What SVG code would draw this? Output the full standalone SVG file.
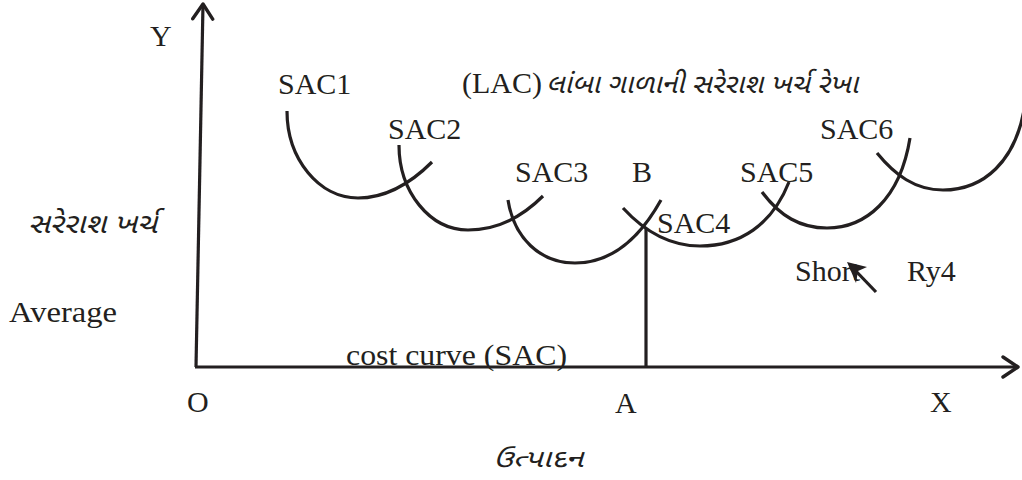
<svg xmlns="http://www.w3.org/2000/svg" width="1022" height="480" viewBox="0 0 1022 480">
<style>
.t{font-family:"Liberation Serif","Times New Roman",serif;font-size:30px;fill:#231f20}
.g{font-family:"Noto Sans Gujarati","Noto Serif Gujarati","Lohit Gujarati","Shruti",sans-serif;font-style:italic;fill:#231f20}
.c{fill:none;stroke:#231f20;stroke-width:3.2;stroke-linecap:butt}
.ax{fill:none;stroke:#231f20;stroke-width:3.2}
</style>
<defs>
<marker id="chev" viewBox="0 0 20 24" refX="18" refY="12" markerWidth="20" markerHeight="24" markerUnits="userSpaceOnUse" orient="auto">
<path d="M3,2 L18,12 L3,22" fill="none" stroke="#231f20" stroke-width="3.4" stroke-linecap="round" stroke-linejoin="round"/>
</marker>
</defs>
<g id="connectors">
<path class="ax" d="M196,367 L203,4" marker-end="url(#chev)"/>
<path class="ax" d="M195,367 L1018,367" marker-end="url(#chev)"/>
<path class="ax" d="M646,228 L646,367"/>
<path class="ax" d="M876,292 L852,267"/>
<polygon points="847,262 867,267 858,271 856,283" fill="#231f20"/>
</g>
<g id="SAC1"><path class="c" d="M287,111 C287,159 319,198 358,198 C390,198 414,180 432,162"/><text class="t" x="278" y="94">SAC1</text></g>
<g id="SAC2"><path class="c" d="M399,145 C399,192 430,230 468,230 C500,230 525,214 543,196"/><text class="t" x="388" y="139">SAC2</text></g>
<g id="SAC3"><path class="c" d="M508,200 C514,238 540,263 575,263 C607,263 637,243 661,200"/><text class="t" x="515" y="182">SAC3</text></g>
<g id="SAC4"><path class="c" d="M623,208 C645,232 670,246 700,246 C740,246 772,225 789,182"/><text class="t" x="657" y="233">SAC4</text></g>
<g id="SAC5"><path class="c" d="M762,192 C780,216 800,228 827,228 C865,228 900,200 910,138"/><text class="t" x="740" y="182">SAC5</text></g>
<g id="SAC6"><path class="c" d="M877,153 C895,175 915,190 943,190 C985,190 1015,160 1024,110"/><text class="t" x="820" y="139">SAC6</text></g>
<g id="labels">
<text class="t" x="150" y="46" font-size="32">Y</text>
<text class="t" x="462" y="93">(LAC)</text>
<text class="g" x="546" y="93" font-size="27" textLength="312" lengthAdjust="spacingAndGlyphs">લાંબા ગાળાની સરેરાશ ખર્ચ રેખા</text>
<text class="t" x="632" y="182">B</text>
<text class="t" x="795" y="281">Short</text>
<text class="t" x="907" y="281">Ry4</text>
<text class="g" x="28" y="233" font-size="28" textLength="129" lengthAdjust="spacingAndGlyphs">સરેરાશ ખર્ચ</text>
<text class="t" x="9" y="322" textLength="108" lengthAdjust="spacingAndGlyphs">Average</text>
<text class="t" x="346" y="365" textLength="221" lengthAdjust="spacingAndGlyphs">cost curve (SAC)</text>
<text class="t" x="187" y="412">O</text>
<text class="t" x="615" y="413">A</text>
<text class="t" x="930" y="412">X</text>
<text class="g" x="493" y="467" font-size="25" textLength="90" lengthAdjust="spacingAndGlyphs">ઉત્પાદન</text>
</g>
</svg>
